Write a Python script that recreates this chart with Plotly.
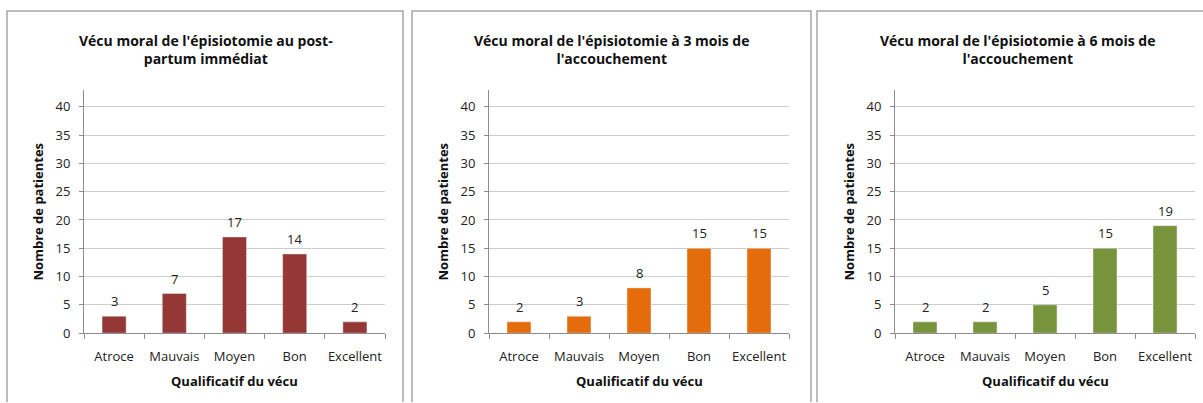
import plotly.graph_objects as go

categories = ["Atroce", "Mauvais", "Moyen", "Bon", "Excellent"]
post_partum = [3, 7, 17, 14, 2]
trois_mois = [2, 3, 8, 15, 15]
six_mois = [2, 2, 5, 15, 19]

titles = [
    "Vécu moral de l'épisiotomie au post-<br>partum immédiat",
    "Vécu moral de l'épisiotomie à 3 mois de<br>l'accouchement",
    "Vécu moral de l'épisiotomie à 6 mois de<br>l'accouchement",
]
series = [post_partum, trois_mois, six_mois]
colors = ["#953735", "#E46C0A", "#77933C"]

# the capture squeezes the page height a little (411 -> 403),
# so the figure is laid out 411 tall and placed with 403-based fractions
W, H = 1203, 411
REF_H = 403
# pixel positions (in the target picture) of plot areas and frames
plots = [(84, 385), (489, 789), (895, 1195)]
frames = [(7, 403), (412, 811), (817, None)]
title_x = [206, 611, 1017]
plot_top, plot_bottom = 90, 334

def px_x(v):
    return v / W

def px_y(v):
    return 1 - v / REF_H

FONT = "Open Sans"
fig = go.Figure()
shapes = []
annotations = []

for i, (vals, col) in enumerate(zip(series, colors)):
    n = "" if i == 0 else str(i + 1)
    fig.add_trace(go.Bar(
        x=categories, y=vals, marker_color=col, width=0.4,
        xaxis="x" + n, yaxis="y" + n, showlegend=False,
    ))
    # value labels above the bars
    for cat, v in zip(categories, vals):
        annotations.append(dict(
            x=cat, y=v, xref="x" + n, yref="y" + n, text=str(v),
            showarrow=False, yanchor="middle", yshift=15,
            font=dict(family=FONT, size=13, color="#222"),
        ))
    x0, x1 = plots[i]
    fig.update_layout(**{
        "xaxis" + n: dict(
            domain=[px_x(x0), px_x(x1)], anchor="y" + n,
            showline=True, linecolor="#8c8c8c", linewidth=1,
            ticks="outside", tickson="boundaries", ticklen=5, tickcolor="#8c8c8c",
            ticklabelstandoff=11, tickangle=0, showgrid=False, fixedrange=True,
            tickfont=dict(family=FONT, size=13, color="#222"),
        ),
        "yaxis" + n: dict(
            domain=[px_y(plot_bottom), px_y(plot_top)], anchor="x" + n,
            range=[0, 43], dtick=5, tick0=0,
            showline=True, linecolor="#8c8c8c", linewidth=1,
            ticks="outside", ticklen=4, tickcolor="#8c8c8c",
            ticklabelstandoff=6,
            showgrid=True, gridcolor="#cccccc", gridwidth=1,
            zeroline=False, fixedrange=True,
            tickfont=dict(family=FONT, size=13, color="#222"),
        ),
    })
    # frame: open at the bottom (cut by the image), and at the right for the last panel
    f0, f1 = frames[i]
    fx0, fy_top, fy_bot = px_x(f0), px_y(11), 0
    if f1 is None:
        path = f"M {fx0},{fy_bot} L {fx0},{fy_top} L 1,{fy_top}"
    else:
        fx1 = px_x(f1)
        path = f"M {fx0},{fy_bot} L {fx0},{fy_top} L {fx1},{fy_top} L {fx1},{fy_bot}"
    shapes.append(dict(
        type="path", path=path, xref="paper", yref="paper",
        line=dict(color="#a6a6a6", width=1.5),
    ))
    annotations.append(dict(
        text=titles[i], xref="paper", yref="paper",
        x=px_x(title_x[i]), y=px_y(50),
        xanchor="center", yanchor="middle", showarrow=False,
        font=dict(family=FONT, size=14, color="#111", weight="bold"),
    ))
    annotations.append(dict(
        text="Nombre de patientes", xref="paper", yref="paper",
        x=px_x(x0 - 46), y=px_y((plot_top + plot_bottom) / 2),
        xanchor="center", yanchor="middle", textangle=-90, showarrow=False,
        font=dict(family=FONT, size=13, color="#111", weight="bold"),
    ))
    annotations.append(dict(
        text="Qualificatif du vécu", xref="paper", yref="paper",
        x=px_x((x0 + x1) / 2), y=px_y(382),
        xanchor="center", yanchor="middle", showarrow=False,
        font=dict(family=FONT, size=13, color="#111", weight="bold"),
    ))

fig.update_layout(
    width=W, height=H, margin=dict(l=0, r=0, t=0, b=0),
    paper_bgcolor="white", plot_bgcolor="white",
    shapes=shapes, annotations=annotations,
    font=dict(family=FONT),
)

# drop the default page margin so the figure sits at the window's corner
fig.write_html(
    "out.html",
    config={"displayModeBar": False},
    post_script="document.body.style.margin='0';document.body.style.overflow='hidden';",
)
